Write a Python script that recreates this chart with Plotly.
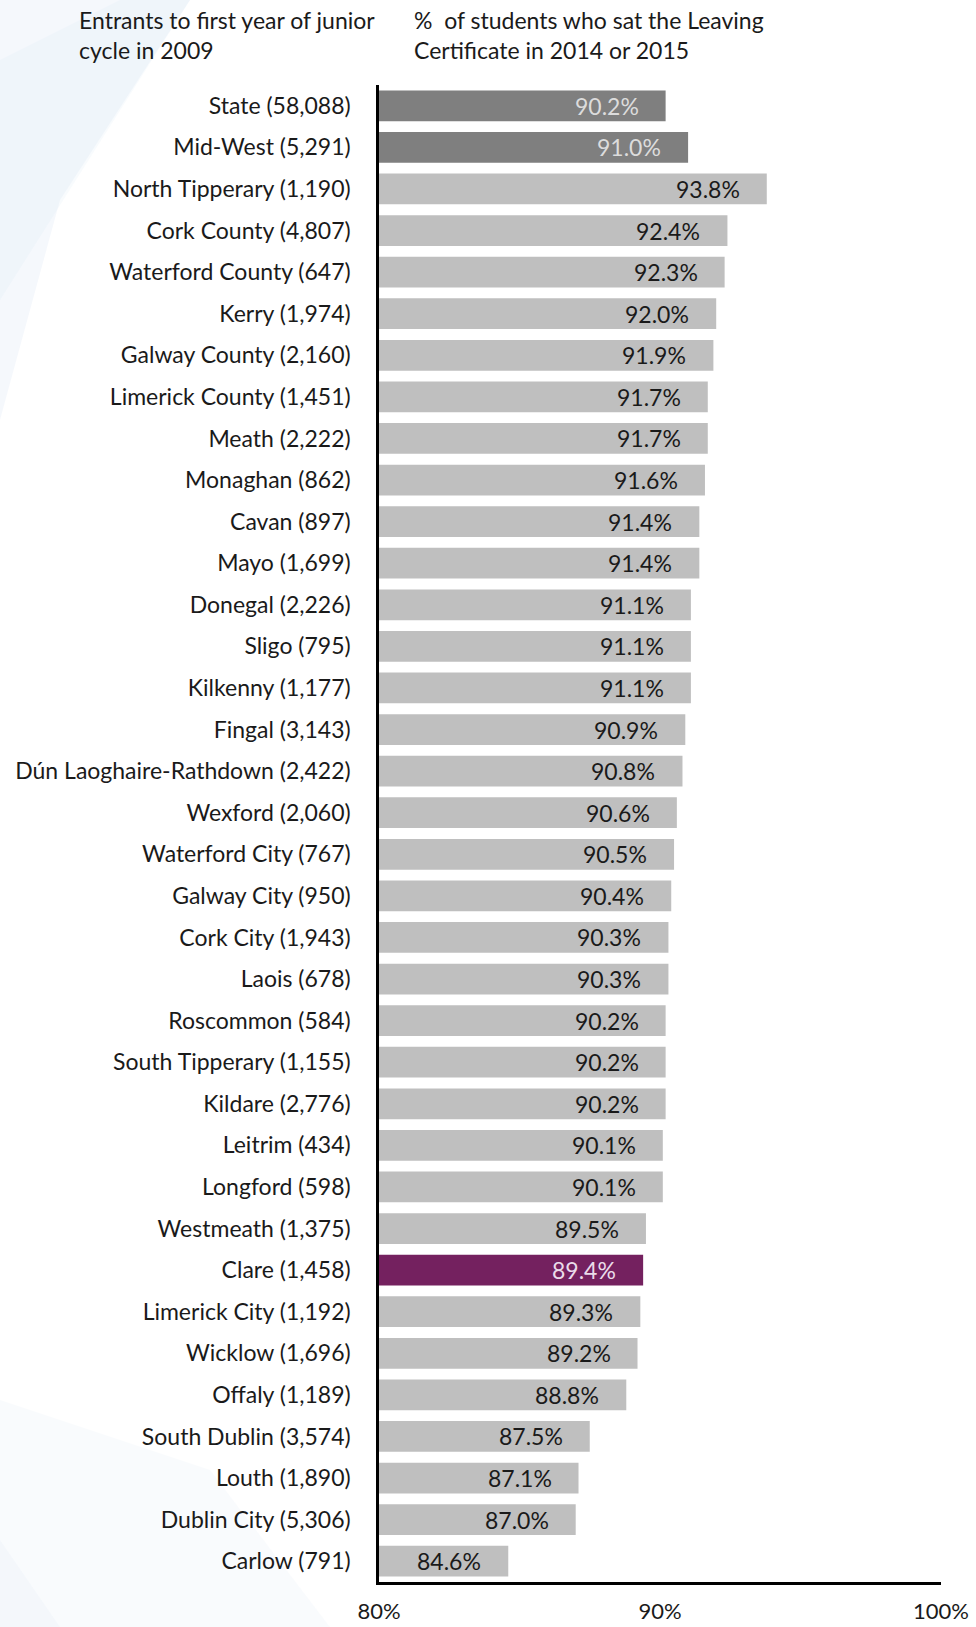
import plotly.graph_objects as go

# Local authority areas, entrants in 2009 and completion rates
areas = [
    "State (58,088)", "Mid-West (5,291)", "North Tipperary (1,190)", "Cork County (4,807)",
    "Waterford County (647)", "Kerry (1,974)", "Galway County (2,160)", "Limerick County (1,451)",
    "Meath (2,222)", "Monaghan (862)", "Cavan (897)", "Mayo (1,699)", "Donegal (2,226)",
    "Sligo (795)", "Kilkenny (1,177)", "Fingal (3,143)", "Dún Laoghaire-Rathdown (2,422)",
    "Wexford (2,060)", "Waterford City (767)", "Galway City (950)", "Cork City (1,943)",
    "Laois (678)", "Roscommon (584)", "South Tipperary (1,155)", "Kildare (2,776)",
    "Leitrim (434)", "Longford (598)", "Westmeath (1,375)", "Clare (1,458)",
    "Limerick City (1,192)", "Wicklow (1,696)", "Offaly (1,189)", "South Dublin (3,574)",
    "Louth (1,890)", "Dublin City (5,306)", "Carlow (791)",
]
pct_sat_lc = [
    90.2, 91.0, 93.8, 92.4, 92.3, 92.0, 91.9, 91.7, 91.7, 91.6, 91.4, 91.4, 91.1, 91.1,
    91.1, 90.9, 90.8, 90.6, 90.5, 90.4, 90.3, 90.3, 90.2, 90.2, 90.2, 90.1, 90.1, 89.5,
    89.4, 89.3, 89.2, 88.8, 87.5, 87.1, 87.0, 84.6,
]
# group of each row: "agg" for State / region, "focus" for Clare, otherwise "county"
groups = ["agg", "agg"] + ["county"] * 26 + ["focus"] + ["county"] * 7

x_ticks = [80, 90, 100]
x_tick_text = ["80%", "90%", "100%"]

bar_colors = {"agg": "#7f7f7f", "county": "#bfbfbf", "focus": "#74215f"}
text_colors = {"agg": "#dcdcdc", "county": "#1a1a1a", "focus": "#eadcea"}

FONT = "Lato"
W, H = 976, 1627
ML, MR, MT, MB = 379, 35, 85, 45
PW, PH = W - ML - MR, H - MT - MB


def px(x):
    """figure pixel x -> paper x"""
    return (x - ML) / PW


def py(y):
    """figure pixel y (from top) -> paper y"""
    return 1 - (y - MT) / PH


fig = go.Figure(
    go.Bar(
        y=areas,
        x=pct_sat_lc,
        orientation="h",
        marker=dict(color=[bar_colors[g] for g in groups], line=dict(width=0)),
        width=0.74,
        hoverinfo="skip",
    )
)

# value labels sitting just inside the end of each bar
for name, val, g in zip(areas, pct_sat_lc, groups):
    fig.add_annotation(
        x=val, y=name, xref="x", yref="y",
        text=f"{val:.1f}%", showarrow=False,
        xanchor="right", xshift=-25,
        font=dict(family=FONT, size=23, color=text_colors[g]),
    )

# column headings above the labels and the bars
fig.add_annotation(
    xref="paper", yref="paper", x=px(77), y=py(4), xanchor="left", yanchor="top",
    text="Entrants to first year of junior<br>cycle in 2009", showarrow=False, align="left",
    font=dict(family=FONT, size=23, color="#1a1a1a"),
)
fig.add_annotation(
    xref="paper", yref="paper", x=px(412), y=py(4), xanchor="left", yanchor="top",
    text="%  of students who sat the Leaving<br>Certificate in 2014 or 2015", showarrow=False,
    align="left", font=dict(family=FONT, size=23, color="#1a1a1a"),
)

# faint decorative backdrop along the left edge
backdrop = [
    ([(0, 0), (190, 0), (60, 200), (0, 420)], "rgba(210,225,242,0.22)"),
    ([(0, 60), (120, 0), (190, 0), (0, 300)], "rgba(210,225,242,0.15)"),
    ([(0, 1400), (210, 1470), (330, 1627), (0, 1627)], "rgba(220,233,246,0.18)"),
    ([(0, 1540), (60, 1627), (0, 1627)], "rgba(220,233,246,0.18)"),
]
for pts, col in backdrop:
    path = "M " + " L ".join(f"{px(a):.4f} {py(b):.4f}" for a, b in pts) + " Z"
    fig.add_shape(type="path", xref="paper", yref="paper", path=path, layer="below",
                  line=dict(width=0), fillcolor=col)

fig.update_layout(
    width=W, height=H,
    margin=dict(l=ML, r=MR, t=MT, b=MB),
    paper_bgcolor="white", plot_bgcolor="rgba(0,0,0,0)",
    showlegend=False,
    font=dict(family=FONT, size=23, color="#1a1a1a"),
    xaxis=dict(
        range=[80, 100], tickvals=x_ticks, ticktext=x_tick_text,
        showgrid=False, zeroline=False, showline=True, linecolor="black", linewidth=2.5,
        ticks="", ticklabelstandoff=8, automargin=False,
        tickfont=dict(family=FONT, size=22, color="#1a1a1a"),
        fixedrange=True,
    ),
    yaxis=dict(
        autorange="reversed", showgrid=False, zeroline=False,
        showline=True, linecolor="black", linewidth=2.5,
        ticks="", ticklabelstandoff=21, automargin=False,
        tickfont=dict(family=FONT, size=23, color="#1a1a1a"),
        fixedrange=True,
    ),
)

fig.write_html("out.html")
